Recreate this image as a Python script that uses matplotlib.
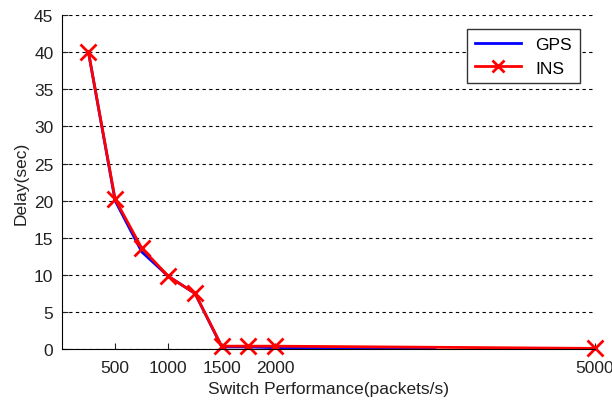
import matplotlib.pyplot as plt

plt.rcParams['font.family'] = ['Liberation Sans', 'DejaVu Sans']

# data
ins_x = [250, 500, 750, 1000, 1250, 1500, 1750, 2000, 5000]
ins_y = [40, 20.2, 13.6, 9.8, 7.5, 0.4, 0.4, 0.4, 0.1]
gps_x = [250, 500, 750, 1000, 1250, 1500, 1750, 2000, 3500]
gps_y = [40, 20.0, 13.1, 9.8, 7.5, 0.3, 0.3, 0.2, 0.2]
xticks = [500, 1000, 1500, 2000, 5000]
yticks = [0, 5, 10, 15, 20, 25, 30, 35, 40, 45]

fig = plt.figure(figsize=(6.12, 4.02), dpi=100)
ax = fig.add_axes([0.101, 0.129, 0.871, 0.831])

ax.plot(gps_x, gps_y, color='blue', lw=2, label='GPS')
ax.plot(ins_x, ins_y, color='red', lw=2, marker='x', markersize=11,
        markeredgewidth=2, label='INS', clip_on=False)

ax.set_xlim(0, 5000)
ax.set_ylim(0, 45)
ax.set_xticks(xticks)
ax.set_yticks(yticks)
ax.tick_params(direction='in', labelsize=12.5, colors='#222222', length=4)
ax.tick_params(axis='x', pad=8)
ax.tick_params(axis='y', pad=6)
ax.yaxis.grid(True, linestyle=(0, (3, 3)), color='black', lw=0.8)
ax.spines['top'].set_visible(False)
ax.spines['right'].set_visible(False)
ax.set_xlabel('Switch Performance(packets/s)', fontsize=12.5, color='#222222', labelpad=4)
ax.set_ylabel('Delay(sec)', fontsize=12.5, color='#222222', labelpad=4)

leg = ax.legend(loc='upper right', bbox_to_anchor=(0.988, 0.985), fontsize=12.5,
                handlelength=2.7, fancybox=False, framealpha=1, edgecolor='#333333',
                borderpad=0.45, labelspacing=0.5, markerscale=0.8)
leg.get_frame().set_linewidth(1)

fig.savefig('out.png', dpi=100)
